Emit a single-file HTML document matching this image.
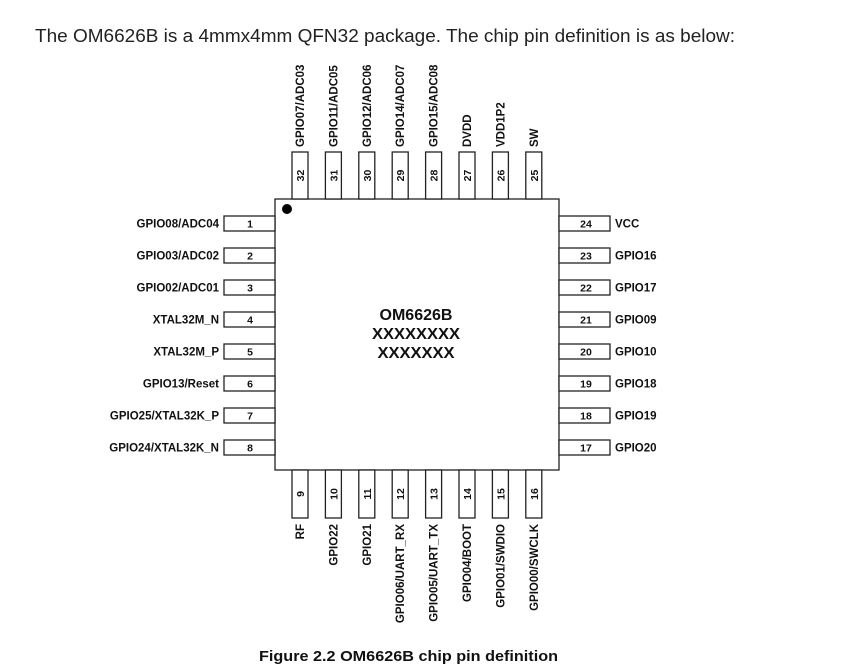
<!DOCTYPE html>
<html><head><style>
html,body{margin:0;padding:0;background:#fff;}
svg{display:block;}
.l{font-family:"Liberation Sans",Arial,sans-serif;font-weight:bold;font-size:11.5px;fill:#111;}
.n{font-family:"Liberation Sans",Arial,sans-serif;font-weight:bold;font-size:10.5px;fill:#111;text-anchor:middle;}
.p{fill:#fff;stroke:#222;stroke-width:1.3;}
</style></head><body>
<svg width="865" height="668" viewBox="0 0 865 668" xmlns="http://www.w3.org/2000/svg">
<text x="35" y="42" font-family="Liberation Sans,Arial,sans-serif" font-size="18" fill="#222" textLength="700" lengthAdjust="spacingAndGlyphs">The OM6626B is a 4mmx4mm QFN32 package. The chip pin definition is as below:</text>

<rect x="275" y="199" width="284" height="271" class="p"/>
<circle cx="287" cy="209" r="5" fill="#000"/>
<text x="416" y="320" font-family="Liberation Sans,Arial,sans-serif" font-weight="bold" font-size="16" text-anchor="middle" fill="#111">OM6626B</text>
<text x="416" y="339" font-family="Liberation Sans,Arial,sans-serif" font-weight="bold" font-size="16" text-anchor="middle" fill="#111" textLength="88" lengthAdjust="spacingAndGlyphs">XXXXXXXX</text>
<text x="416" y="358" font-family="Liberation Sans,Arial,sans-serif" font-weight="bold" font-size="16" text-anchor="middle" fill="#111" textLength="77" lengthAdjust="spacingAndGlyphs">XXXXXXX</text>

<rect x="292" y="152" width="16" height="47" class="p"/>
<rect x="325.4" y="152" width="16" height="47" class="p"/>
<rect x="358.8" y="152" width="16" height="47" class="p"/>
<rect x="392.2" y="152" width="16" height="47" class="p"/>
<rect x="425.6" y="152" width="16" height="47" class="p"/>
<rect x="459" y="152" width="16" height="47" class="p"/>
<rect x="492.4" y="152" width="16" height="47" class="p"/>
<rect x="525.8" y="152" width="16" height="47" class="p"/>
<text class="n" transform="translate(304,175.5) rotate(-90)">32</text>
<text class="n" transform="translate(337.4,175.5) rotate(-90)">31</text>
<text class="n" transform="translate(370.8,175.5) rotate(-90)">30</text>
<text class="n" transform="translate(404.2,175.5) rotate(-90)">29</text>
<text class="n" transform="translate(437.6,175.5) rotate(-90)">28</text>
<text class="n" transform="translate(471,175.5) rotate(-90)">27</text>
<text class="n" transform="translate(504.4,175.5) rotate(-90)">26</text>
<text class="n" transform="translate(537.8,175.5) rotate(-90)">25</text>
<text class="l" transform="translate(304,147) rotate(-90)">GPIO07/ADC03</text>
<text class="l" transform="translate(337.4,147) rotate(-90)">GPIO11/ADC05</text>
<text class="l" transform="translate(370.8,147) rotate(-90)">GPIO12/ADC06</text>
<text class="l" transform="translate(404.2,147) rotate(-90)">GPIO14/ADC07</text>
<text class="l" transform="translate(437.6,147) rotate(-90)">GPIO15/ADC08</text>
<text class="l" transform="translate(471,147) rotate(-90)">DVDD</text>
<text class="l" transform="translate(504.4,147) rotate(-90)">VDD1P2</text>
<text class="l" transform="translate(537.8,147) rotate(-90)">SW</text>

<rect x="292" y="470" width="16" height="48" class="p"/>
<rect x="325.4" y="470" width="16" height="48" class="p"/>
<rect x="358.8" y="470" width="16" height="48" class="p"/>
<rect x="392.2" y="470" width="16" height="48" class="p"/>
<rect x="425.6" y="470" width="16" height="48" class="p"/>
<rect x="459" y="470" width="16" height="48" class="p"/>
<rect x="492.4" y="470" width="16" height="48" class="p"/>
<rect x="525.8" y="470" width="16" height="48" class="p"/>
<text class="n" transform="translate(304,494) rotate(-90)">9</text>
<text class="n" transform="translate(337.4,494) rotate(-90)">10</text>
<text class="n" transform="translate(370.8,494) rotate(-90)">11</text>
<text class="n" transform="translate(404.2,494) rotate(-90)">12</text>
<text class="n" transform="translate(437.6,494) rotate(-90)">13</text>
<text class="n" transform="translate(471,494) rotate(-90)">14</text>
<text class="n" transform="translate(504.4,494) rotate(-90)">15</text>
<text class="n" transform="translate(537.8,494) rotate(-90)">16</text>
<text class="l" text-anchor="end" transform="translate(304,524) rotate(-90)">RF</text>
<text class="l" text-anchor="end" transform="translate(337.4,524) rotate(-90)">GPIO22</text>
<text class="l" text-anchor="end" transform="translate(370.8,524) rotate(-90)">GPIO21</text>
<text class="l" text-anchor="end" transform="translate(404.2,524) rotate(-90)">GPIO06/UART_RX</text>
<text class="l" text-anchor="end" transform="translate(437.6,524) rotate(-90)">GPIO05/UART_TX</text>
<text class="l" text-anchor="end" transform="translate(471,524) rotate(-90)">GPIO04/BOOT</text>
<text class="l" text-anchor="end" transform="translate(504.4,524) rotate(-90)">GPIO01/SWDIO</text>
<text class="l" text-anchor="end" transform="translate(537.8,524) rotate(-90)">GPIO00/SWCLK</text>

<rect x="224" y="216" width="51" height="15" class="p"/>
<rect x="224" y="248" width="51" height="15" class="p"/>
<rect x="224" y="280" width="51" height="15" class="p"/>
<rect x="224" y="312" width="51" height="15" class="p"/>
<rect x="224" y="344" width="51" height="15" class="p"/>
<rect x="224" y="376" width="51" height="15" class="p"/>
<rect x="224" y="408" width="51" height="15" class="p"/>
<rect x="224" y="440" width="51" height="15" class="p"/>
<text class="n" x="250" y="227.5">1</text>
<text class="n" x="250" y="259.5">2</text>
<text class="n" x="250" y="291.5">3</text>
<text class="n" x="250" y="323.5">4</text>
<text class="n" x="250" y="355.5">5</text>
<text class="n" x="250" y="387.5">6</text>
<text class="n" x="250" y="419.5">7</text>
<text class="n" x="250" y="451.5">8</text>
<text class="l" text-anchor="end" x="219" y="227.5">GPIO08/ADC04</text>
<text class="l" text-anchor="end" x="219" y="259.5">GPIO03/ADC02</text>
<text class="l" text-anchor="end" x="219" y="291.5">GPIO02/ADC01</text>
<text class="l" text-anchor="end" x="219" y="323.5">XTAL32M_N</text>
<text class="l" text-anchor="end" x="219" y="355.5">XTAL32M_P</text>
<text class="l" text-anchor="end" x="219" y="387.5">GPIO13/Reset</text>
<text class="l" text-anchor="end" x="219" y="419.5">GPIO25/XTAL32K_P</text>
<text class="l" text-anchor="end" x="219" y="451.5">GPIO24/XTAL32K_N</text>

<rect x="559" y="216" width="51" height="15" class="p"/>
<rect x="559" y="248" width="51" height="15" class="p"/>
<rect x="559" y="280" width="51" height="15" class="p"/>
<rect x="559" y="312" width="51" height="15" class="p"/>
<rect x="559" y="344" width="51" height="15" class="p"/>
<rect x="559" y="376" width="51" height="15" class="p"/>
<rect x="559" y="408" width="51" height="15" class="p"/>
<rect x="559" y="440" width="51" height="15" class="p"/>
<text class="n" x="586" y="227.5">24</text>
<text class="n" x="586" y="259.5">23</text>
<text class="n" x="586" y="291.5">22</text>
<text class="n" x="586" y="323.5">21</text>
<text class="n" x="586" y="355.5">20</text>
<text class="n" x="586" y="387.5">19</text>
<text class="n" x="586" y="419.5">18</text>
<text class="n" x="586" y="451.5">17</text>
<text class="l" x="615" y="227.5">VCC</text>
<text class="l" x="615" y="259.5">GPIO16</text>
<text class="l" x="615" y="291.5">GPIO17</text>
<text class="l" x="615" y="323.5">GPIO09</text>
<text class="l" x="615" y="355.5">GPIO10</text>
<text class="l" x="615" y="387.5">GPIO18</text>
<text class="l" x="615" y="419.5">GPIO19</text>
<text class="l" x="615" y="451.5">GPIO20</text>

<text x="259" y="661" font-family="Liberation Sans,Arial,sans-serif" font-weight="bold" font-size="15" fill="#111" textLength="299" lengthAdjust="spacingAndGlyphs">Figure 2.2 OM6626B chip pin definition</text>
</svg>
</body></html>
